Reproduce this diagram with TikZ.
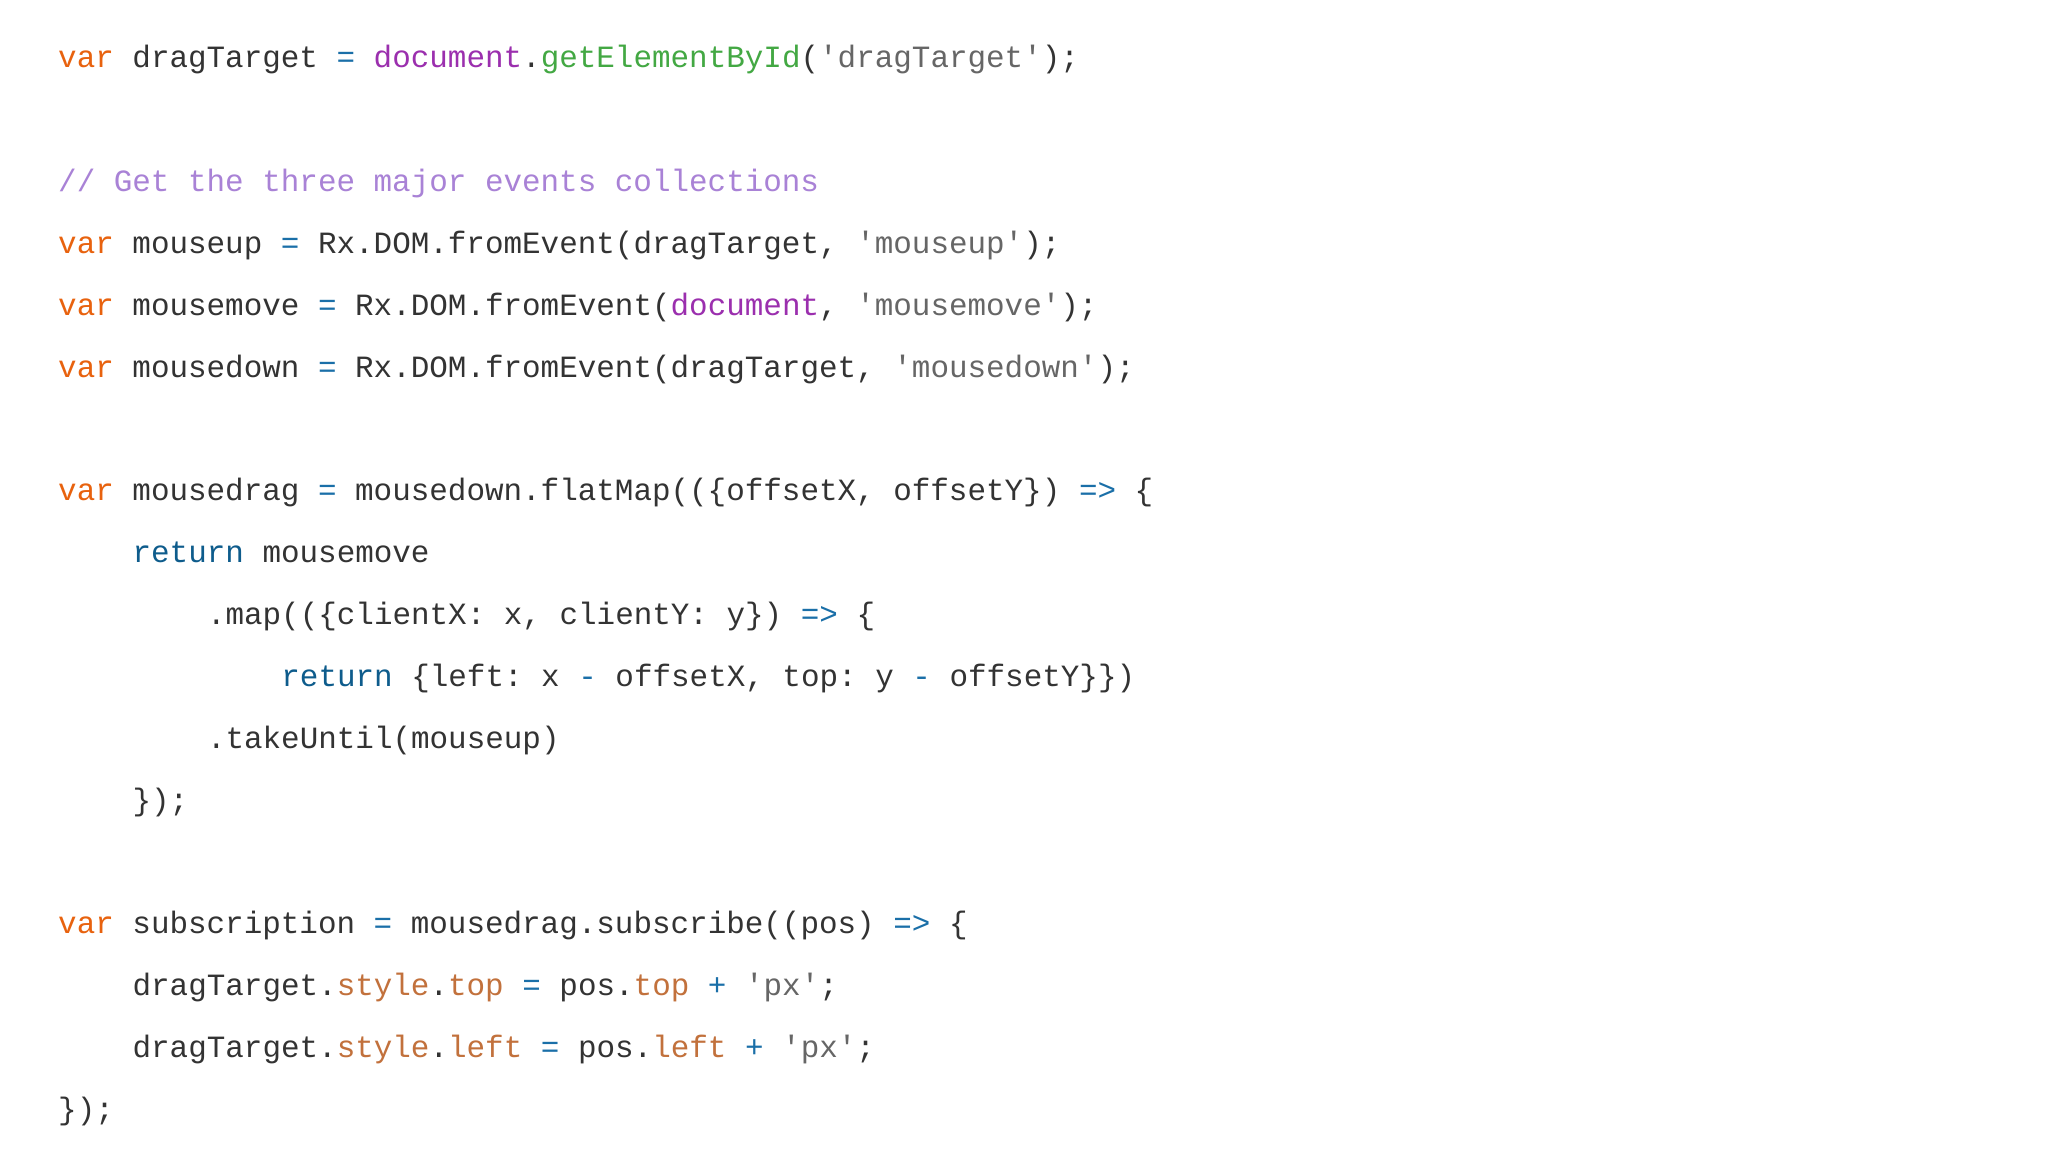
\documentclass[tikz,border=0pt]{standalone}
\usepackage{fontspec}
\setmonofont{Liberation Mono}
\definecolor{kvar}{HTML}{E8620E}
\definecolor{ktxt}{HTML}{333333}
\definecolor{kop}{HTML}{1A6FA8}
\definecolor{kdoc}{HTML}{9B2FAE}
\definecolor{kfn}{HTML}{43A843}
\definecolor{kstr}{HTML}{666666}
\definecolor{kcm}{HTML}{A982D6}
\definecolor{kret}{HTML}{0E5C8C}
\definecolor{kprop}{HTML}{C2713C}
\newcommand\kv[1]{\textcolor{kvar}{#1}}
\newcommand\kop[1]{\textcolor{kop}{#1}}
\newcommand\kdc[1]{\textcolor{kdoc}{#1}}
\newcommand\kfn[1]{\textcolor{kfn}{#1}}
\newcommand\kst[1]{\textcolor{kstr}{#1}}
\newcommand\kcm[1]{\textcolor{kcm}{#1}}
\newcommand\krt[1]{\textcolor{kret}{#1}}
\newcommand\kpr[1]{\textcolor{kprop}{#1}}
\tikzset{codeline/.style={anchor=base west,inner sep=0pt,font=\ttfamily\fontsize{8.8}{10}\selectfont,text=ktxt}}
\begin{document}
\begin{tikzpicture}
\useasboundingbox[fill=white] (0,0) rectangle (20.48,11.52);
\def\ln#1{11.52-0.679-0.6185*#1}
\node[codeline] (l0) at (0.575,{\ln{0}}) {\kv{var} dragTarget \kop{=} \kdc{document}.\kfn{getElementById}(\kst{'dragTarget'});};
\node[codeline] (l2) at (0.575,{\ln{2}}) {\kcm{// Get the three major events collections}};
\node[codeline] (l3) at (0.575,{\ln{3}}) {\kv{var} mouseup \kop{=} Rx.DOM.fromEvent(dragTarget, \kst{'mouseup'});};
\node[codeline] (l4) at (0.575,{\ln{4}}) {\kv{var} mousemove \kop{=} Rx.DOM.fromEvent(\kdc{document}, \kst{'mousemove'});};
\node[codeline] (l5) at (0.575,{\ln{5}}) {\kv{var} mousedown \kop{=} Rx.DOM.fromEvent(dragTarget, \kst{'mousedown'});};
\node[codeline] (l7) at (0.575,{\ln{7}}) {\kv{var} mousedrag \kop{=} mousedown.flatMap((\{offsetX, offsetY\}) \kop{=>} \{};
\node[codeline] (l8) at (0.575+4*0.186,{\ln{8}}) {\krt{return} mousemove};
\node[codeline] (l9) at (0.575+8*0.186,{\ln{9}}) {.map((\{clientX: x, clientY: y\}) \kop{=>} \{};
\node[codeline] (l10) at (0.575+12*0.186,{\ln{10}}) {\krt{return} \{left: x \kop{-} offsetX, top: y \kop{-} offsetY\}\})};
\node[codeline] (l11) at (0.575+8*0.186,{\ln{11}}) {.takeUntil(mouseup)};
\node[codeline] (l12) at (0.575+4*0.186,{\ln{12}}) {\});};
\node[codeline] (l14) at (0.575,{\ln{14}}) {\kv{var} subscription \kop{=} mousedrag.subscribe((pos) \kop{=>} \{};
\node[codeline] (l15) at (0.575+4*0.186,{\ln{15}}) {dragTarget.\kpr{style}.\kpr{top} \kop{=} pos.\kpr{top} \kop{+} \kst{'px'};};
\node[codeline] (l16) at (0.575+4*0.186,{\ln{16}}) {dragTarget.\kpr{style}.\kpr{left} \kop{=} pos.\kpr{left} \kop{+} \kst{'px'};};
\node[codeline] (l17) at (0.575,{\ln{17}}) {\});};
\end{tikzpicture}
\end{document}
